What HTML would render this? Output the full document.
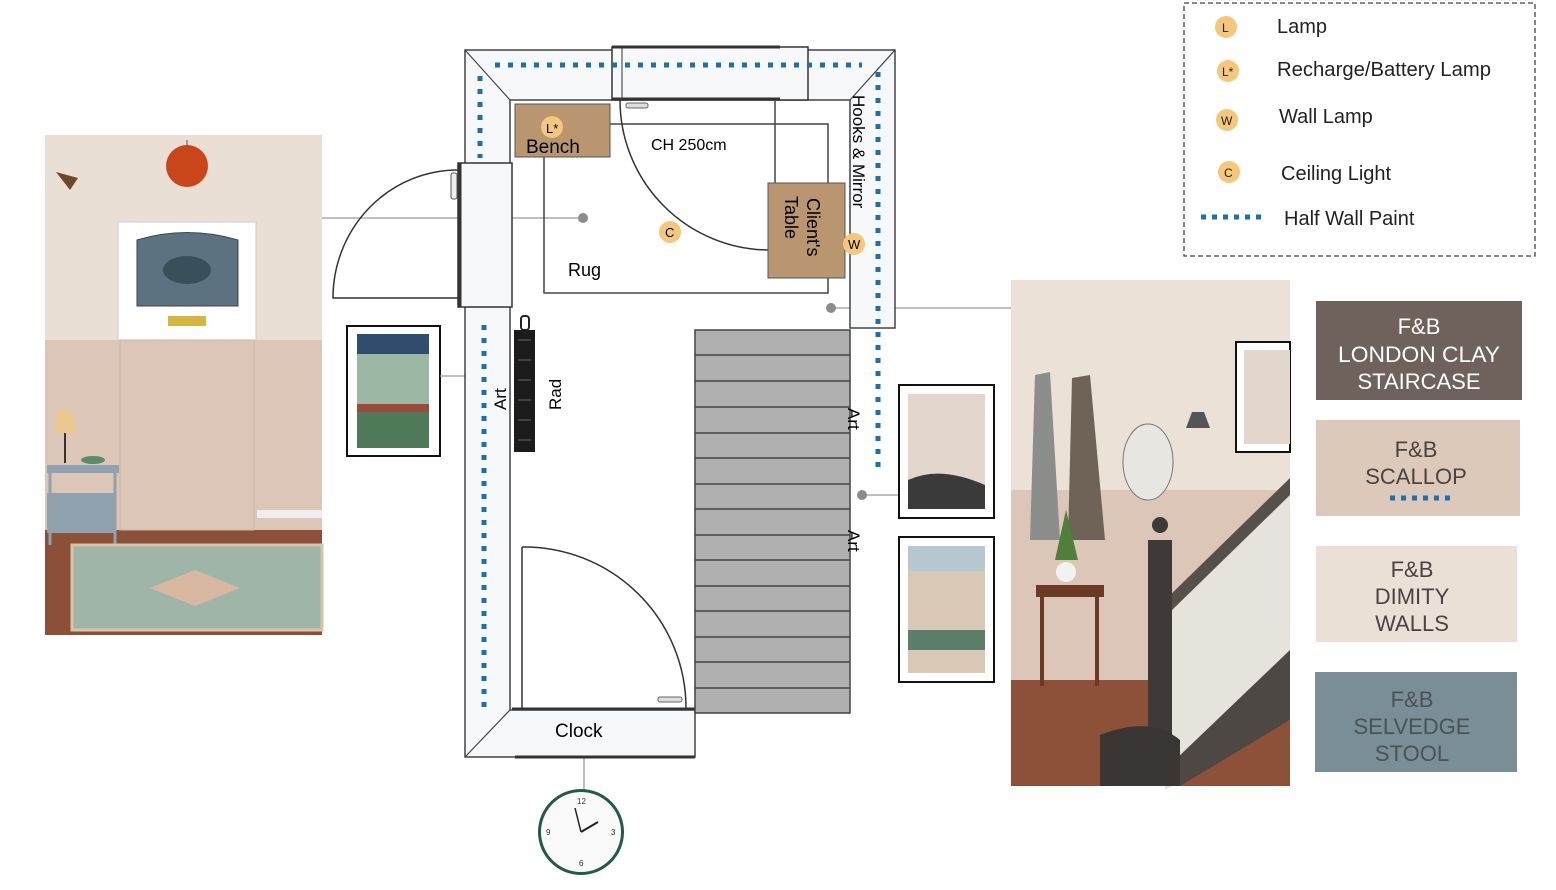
<!DOCTYPE html>
<html><head><meta charset="utf-8"><style>
html,body{margin:0;padding:0;background:#fff;width:1556px;height:890px;overflow:hidden}
svg{display:block;font-family:"Liberation Sans",sans-serif}
</style></head><body>
<svg width="1556" height="890" viewBox="0 0 1556 890" xmlns="http://www.w3.org/2000/svg">
<!-- LEFT IMAGE -->
<rect x="45" y="135" width="277" height="500" fill="#eadfd5"/>
<rect x="45" y="340" width="277" height="190" fill="#dcc6b8"/>
<rect x="45" y="530" width="277" height="105" fill="#8c5038"/>
<rect x="118" y="222" width="138" height="118" fill="#fff" stroke="#ccc"/>
<path d="M137 240 Q187 225 238 240 L238 306 L137 306 Z" fill="#5d7280" stroke="#384650"/>
<ellipse cx="187" cy="270" rx="24" ry="14" fill="#38505a"/>
<rect x="168" y="316" width="38" height="10" fill="#d7b640"/>
<rect x="120" y="340" width="134" height="190" fill="#dcc6b8" stroke="#cdb6a8"/>
<rect x="257" y="510" width="65" height="8" fill="#eee"/>
<circle cx="187" cy="166" r="21" fill="#c9461a"/>
<line x1="187" y1="140" x2="187" y2="147" stroke="#555"/>
<path d="M56 172 L78 178 L70 190 Z" fill="#6b4a2a"/>
<rect x="47" y="465" width="72" height="8" fill="#8fa2ad"/>
<rect x="47" y="493" width="68" height="40" fill="#8fa2ad"/>
<line x1="50" y1="473" x2="50" y2="545" stroke="#8fa2ad" stroke-width="3"/>
<line x1="115" y1="473" x2="115" y2="545" stroke="#8fa2ad" stroke-width="3"/>
<path d="M58 410 L72 410 L76 433 L54 433 Z" fill="#e8c88e"/>
<line x1="65" y1="433" x2="65" y2="463" stroke="#333" stroke-width="2"/>
<ellipse cx="93" cy="460" rx="12" ry="4" fill="#5a8c6a"/>
<rect x="72" y="545" width="250" height="85" fill="#9fb5a8" stroke="#d8c4a8" stroke-width="3"/>
<path d="M150 588 L195 570 L240 588 L195 606 Z" fill="#d8b8a0"/>
<!-- left art -->
<rect x="347" y="326" width="93" height="130" fill="#fff" stroke="#111" stroke-width="2"/>
<rect x="357" y="334" width="72" height="114" fill="#9bb8a4"/>
<rect x="357" y="334" width="72" height="20" fill="#2f4e6e"/>
<rect x="357" y="404" width="72" height="8" fill="#9a4a3a"/>
<rect x="357" y="412" width="72" height="36" fill="#4f7a5a"/>
<!-- connectors -->
<g stroke="#999" stroke-width="1.3" fill="none">
<line x1="322" y1="218" x2="583" y2="218"/>
<line x1="440" y1="376" x2="490" y2="376"/>
<line x1="831" y1="308" x2="1011" y2="308"/>
<line x1="862" y1="495" x2="898" y2="495"/>
<line x1="584" y1="752" x2="584" y2="790"/>
</g>
<g fill="#8c8c8c"><circle cx="583" cy="218" r="5"/><circle cx="490" cy="376" r="5"/><circle cx="831" cy="308" r="5"/><circle cx="862" cy="495" r="5"/><circle cx="584" cy="752" r="5"/></g>
<!-- FLOOR PLAN walls -->
<g stroke="#444" stroke-width="1.5" fill="#f6f8f9">
<path d="M465 50 L895 50 L895 328 L850 328 L850 100 L510 100 L510 710 L695 710 L695 757 L465 757 Z"/>
</g>
<g stroke="#444" stroke-width="1.2" fill="none">
<line x1="465" y1="50" x2="510" y2="100"/>
<line x1="895" y1="50" x2="850" y2="100"/>
<line x1="465" y1="757" x2="510" y2="710"/>
</g>
<rect x="612" y="47" width="196" height="53" fill="#f6f8f9" stroke="#333" stroke-width="1.5"/>
<line x1="612" y1="47" x2="780" y2="47" stroke="#333" stroke-width="3"/>
<line x1="612" y1="99" x2="780" y2="99" stroke="#333" stroke-width="3"/>
<line x1="622" y1="47" x2="622" y2="100" stroke="#333"/>
<rect x="626" y="103" width="22" height="5" rx="2" fill="#ddd" stroke="#666"/>
<rect x="458" y="163" width="54" height="144" fill="#f6f8f9" stroke="#333" stroke-width="1.5"/>
<line x1="460" y1="163" x2="460" y2="307" stroke="#333" stroke-width="3"/>
<rect x="451" y="173" width="6" height="26" rx="2" fill="#eee" stroke="#555"/>
<line x1="515" y1="757" x2="695" y2="757" stroke="#333" stroke-width="3"/>
<line x1="512" y1="709" x2="695" y2="709" stroke="#333" stroke-width="3"/>
<!-- blue dotted -->
<g stroke="#1a6fb5" stroke-width="5" stroke-dasharray="5 8" fill="none">
<line x1="495" y1="65" x2="862" y2="65"/>
<line x1="878" y1="72" x2="878" y2="468"/>
<line x1="480" y1="76" x2="480" y2="158"/>
<line x1="484" y1="325" x2="484" y2="708"/>
</g>
<!-- left door -->
<path d="M458 170 A125 128 0 0 0 333 298 L458 298" fill="none" stroke="#333" stroke-width="1.5"/>
<!-- rug -->
<rect x="544" y="124" width="284" height="169" fill="none" stroke="#444" stroke-width="1.5"/>
<!-- top door -->
<line x1="775" y1="100" x2="775" y2="183" stroke="#444" stroke-width="1.5"/>
<path d="M620 100 A150 150 0 0 0 768 250" fill="none" stroke="#333" stroke-width="1.5"/>
<!-- bench -->
<rect x="515" y="104" width="95" height="53" fill="#b9966f" stroke="#555"/>
<circle cx="552" cy="127" r="11" fill="#f3c77c"/>
<text x="546" y="133" font-size="13">L*</text>
<text x="526" y="153" font-size="19">Bench</text>
<text x="651" y="150" font-size="16">CH 250cm</text>
<text x="568" y="276" font-size="18">Rug</text>
<circle cx="670" cy="232" r="11" fill="#f3c77c"/>
<text x="665" y="237" font-size="13">C</text>
<!-- client's table -->
<rect x="768" y="183" width="77" height="95" fill="#b9966f" stroke="#555"/>
<text transform="translate(807 198) rotate(90)" font-size="18">Client's</text>
<text transform="translate(785 196) rotate(90)" font-size="18">Table</text>
<circle cx="854" cy="244" r="11" fill="#f3c77c"/>
<text x="848" y="249" font-size="13">W</text>
<text transform="translate(853 95) rotate(90)" font-size="17">Hooks &amp; Mirror</text>
<!-- stairs -->
<rect x="695" y="330" width="155" height="383" fill="#b0b0b0" stroke="#444" stroke-width="1.5"/>
<g stroke="#444" stroke-width="1.5">
<line x1="695" y1="355" x2="850" y2="355"/><line x1="695" y1="381" x2="850" y2="381"/><line x1="695" y1="407" x2="850" y2="407"/><line x1="695" y1="433" x2="850" y2="433"/><line x1="695" y1="458" x2="850" y2="458"/><line x1="695" y1="484" x2="850" y2="484"/><line x1="695" y1="509" x2="850" y2="509"/><line x1="695" y1="535" x2="850" y2="535"/><line x1="695" y1="560" x2="850" y2="560"/><line x1="695" y1="586" x2="850" y2="586"/><line x1="695" y1="611" x2="850" y2="611"/><line x1="695" y1="637" x2="850" y2="637"/><line x1="695" y1="662" x2="850" y2="662"/><line x1="695" y1="688" x2="850" y2="688"/>
</g>
<text transform="translate(848 408) rotate(90)" font-size="17">Art</text>
<text transform="translate(848 530) rotate(90)" font-size="17">Art</text>
<!-- rad -->
<rect x="521" y="316" width="8" height="14" rx="3" fill="#fff" stroke="#222" stroke-width="2"/>
<rect x="514" y="330" width="21" height="122" fill="#1b1b1b"/>
<g stroke="#666" stroke-width="1"><line x1="518" y1="340" x2="531" y2="340"/><line x1="518" y1="360" x2="531" y2="360"/><line x1="518" y1="380" x2="531" y2="380"/><line x1="518" y1="400" x2="531" y2="400"/><line x1="518" y1="420" x2="531" y2="420"/><line x1="518" y1="440" x2="531" y2="440"/></g>
<text transform="translate(506 410) rotate(-90)" font-size="17">Art</text>
<text transform="translate(561 410) rotate(-90)" font-size="17">Rad</text>
<!-- bottom door -->
<line x1="522" y1="547" x2="522" y2="708" stroke="#333" stroke-width="1.5"/>
<path d="M522 547 A162 161 0 0 1 686 708" fill="none" stroke="#333" stroke-width="1.5"/>
<rect x="658" y="697" width="24" height="5" rx="2" fill="#ddd" stroke="#666"/>
<text x="555" y="737" font-size="19">Clock</text>
<!-- clock -->
<circle cx="581" cy="832" r="43" fill="#1f5a4a"/>
<circle cx="581" cy="832" r="40" fill="#fafafa"/>
<line x1="581" y1="832" x2="598" y2="822" stroke="#222" stroke-width="2"/>
<line x1="581" y1="832" x2="575" y2="808" stroke="#222" stroke-width="1.5"/>
<g font-size="8" fill="#333"><text x="577" y="804">12</text><text x="611" y="835">3</text><text x="579" y="866">6</text><text x="546" y="835">9</text></g>
<!-- right art frames -->
<rect x="899" y="385" width="95" height="133" fill="#fff" stroke="#111" stroke-width="2"/>
<rect x="908" y="394" width="77" height="115" fill="#e3d6cc"/>
<path d="M908 480 Q940 465 985 485 L985 509 L908 509 Z" fill="#3a3a3a"/>
<rect x="899" y="537" width="95" height="145" fill="#fff" stroke="#111" stroke-width="2"/>
<rect x="908" y="546" width="77" height="127" fill="#d9c8b3"/>
<rect x="908" y="546" width="77" height="25" fill="#b8c8d0"/>
<rect x="908" y="630" width="77" height="20" fill="#5b7e68"/>
<!-- RIGHT IMAGE -->
<rect x="1011" y="280" width="279" height="506" fill="#ece1d6"/>
<rect x="1011" y="490" width="279" height="190" fill="#dcc6b8"/>
<rect x="1011" y="680" width="279" height="106" fill="#8d5038"/>
<rect x="1236" y="342" width="54" height="110" fill="#fff" stroke="#111" stroke-width="2"/>
<rect x="1244" y="350" width="46" height="94" fill="#e3d6cc"/>
<path d="M1035 375 L1050 372 L1060 540 L1030 540 Z" fill="#8b8e8b"/>
<path d="M1072 378 L1090 375 L1105 540 L1068 540 Z" fill="#6e6356"/>
<ellipse cx="1148" cy="462" rx="25" ry="38" fill="#e8e6e0" stroke="#777"/>
<path d="M1186 428 L1210 428 L1204 412 L1192 412 Z" fill="#555"/>
<circle cx="1066" cy="572" r="10" fill="#f2f2f2"/>
<path d="M1055 560 L1066 510 L1078 560 Z" fill="#4f7f3a"/>
<rect x="1036" y="585" width="68" height="12" fill="#6b3a22"/>
<line x1="1042" y1="597" x2="1042" y2="686" stroke="#6b3a22" stroke-width="4"/>
<line x1="1097" y1="597" x2="1097" y2="686" stroke="#6b3a22" stroke-width="4"/>
<path d="M1165 600 L1290 478 L1290 720 L1165 790 Z" fill="#e6e2dc"/>
<path d="M1165 600 L1290 478 L1290 495 L1170 612 Z" fill="#555049"/>
<path d="M1175 760 L1290 650 L1290 720 L1180 786 Z" fill="#4d4843"/>
<rect x="1148" y="540" width="24" height="210" fill="#3e3a37"/>
<circle cx="1160" cy="525" r="8" fill="#3e3a37"/>
<path d="M1100 735 Q1150 715 1180 740 L1180 786 L1100 786 Z" fill="#3a3634"/>
<!-- swatches -->
<rect x="1316" y="301" width="206" height="99" fill="#6f615b"/>
<g font-size="22" text-anchor="middle" fill="#fff"><text x="1419" y="334">F&amp;B</text><text x="1419" y="362" textLength="162" lengthAdjust="spacingAndGlyphs">LONDON CLAY</text><text x="1419" y="389">STAIRCASE</text></g>
<rect x="1316" y="420" width="204" height="96" fill="#dcc9ba"/>
<g font-size="22" text-anchor="middle" fill="#4a4440"><text x="1416" y="457">F&amp;B</text><text x="1416" y="484">SCALLOP</text></g>
<line x1="1390" y1="498" x2="1452" y2="498" stroke="#1a6fb5" stroke-width="5" stroke-dasharray="5 6"/>
<rect x="1316" y="546" width="201" height="96" fill="#ebe0d5"/>
<g font-size="22" text-anchor="middle" fill="#4a4440"><text x="1412" y="577">F&amp;B</text><text x="1412" y="604">DIMITY</text><text x="1412" y="631">WALLS</text></g>
<rect x="1315" y="672" width="202" height="100" fill="#7a8e98"/>
<g font-size="22" text-anchor="middle" fill="#4a5258"><text x="1412" y="707">F&amp;B</text><text x="1412" y="734">SELVEDGE</text><text x="1412" y="761">STOOL</text></g>
<!-- LEGEND -->
<rect x="1184" y="3" width="351" height="253" fill="#fff" stroke="#444" stroke-width="1.3" stroke-dasharray="5 3"/>
<g fill="#f3c77c"><circle cx="1226" cy="27" r="11"/><circle cx="1228" cy="71" r="11"/><circle cx="1227" cy="120" r="11"/><circle cx="1229" cy="172" r="11"/></g>
<g font-size="12" fill="#222"><text x="1222" y="32">L</text><text x="1222" y="76">L*</text><text x="1221" y="125">W</text><text x="1224" y="177">C</text></g>
<line x1="1201" y1="217" x2="1262" y2="217" stroke="#1a6fb5" stroke-width="5" stroke-dasharray="5 6"/>
<g font-size="20" fill="#222"><text x="1277" y="33">Lamp</text><text x="1277" y="76" textLength="214" lengthAdjust="spacingAndGlyphs">Recharge/Battery Lamp</text><text x="1279" y="123">Wall Lamp</text><text x="1281" y="180">Ceiling Light</text><text x="1284" y="225">Half Wall Paint</text></g>
</svg>
</body></html>
